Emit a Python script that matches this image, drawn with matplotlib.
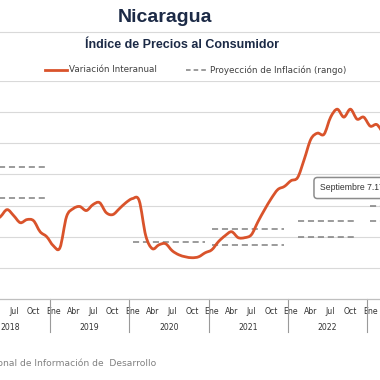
import matplotlib
matplotlib.use("Agg")
import matplotlib.pyplot as plt
import numpy as np
from matplotlib.lines import Line2D
from matplotlib.path import Path
from matplotlib.patches import PathPatch
import matplotlib.transforms as mtransforms

# meses desde enero 2019 (0 = Ene 2019)
meses = list(range(-9, 51))
variacion = [4.97, 5.29, 5.74, 5.35, 4.90, 5.10, 5.03, 4.32, 4.00,
             3.42, 3.29, 5.29, 5.80, 5.94, 5.68, 6.06, 6.19, 5.55, 5.42, 5.80, 6.19,
             6.45, 6.32, 4.06, 3.23, 3.48, 3.55, 3.10, 2.84, 2.71, 2.65, 2.71, 2.97,
             3.16, 3.68, 4.06, 4.32, 3.94, 3.94, 4.13, 4.97, 5.74, 6.45, 7.03, 7.23,
             7.60, 7.80, 8.97, 10.26, 10.65, 10.58, 11.68, 12.19, 11.68, 12.19, 11.55, 11.68,
             11.10, 11.20, 10.60]

# proyecciones (mes inicio, mes fin, bajo, alto)
proy_inicio = [-12, 12, 24, 37, 48]
proy_fin = [-1, 23, 35, 46, 59]
proy_bajo = [6.5, 3.68, 3.5, 4.0, 5.0]
proy_alto = [8.5, 3.68, 4.5, 5.0, 6.0]

anios = [2018, 2019, 2020, 2021, 2022, 2023]
nombres_mes = ["Ene", "Abr", "Jul", "Oct"]

naranja = "#d9532b"
gris = "#808080"
navy = "#1c2a46"

fig = plt.figure(figsize=(3.8, 3.8), dpi=100)
W = H = 380.0
ax = fig.add_axes([-29.2 / W, (H - 299) / H, 475.4 / W, 218 / H])

for y in range(2, 15, 2):
    ax.axhline(y, color="#d9d9d9", lw=0.8, zorder=0)

for a, b, lo, hi in zip(proy_inicio, proy_fin, proy_bajo, proy_alto):
    ax.plot([a, b], [lo, lo], color=gris, lw=1.1, dashes=(4, 2.5))
    if hi != lo:
        ax.plot([a, b], [hi, hi], color=gris, lw=1.1, dashes=(4, 2.5))

# linea suavizada (curvas bezier entre los puntos mensuales, como en excel)
pts = np.column_stack([meses, variacion])
n = len(pts)
verts = [pts[0]]
codes = [Path.MOVETO]
for i in range(n - 1):
    p0 = pts[max(i - 1, 0)]
    p1 = pts[i]
    p2 = pts[i + 1]
    p3 = pts[min(i + 2, n - 1)]
    verts += [p1 + (p2 - p0) / 6, p2 - (p3 - p1) / 6, p2]
    codes += [Path.CURVE4] * 3
ax.add_patch(PathPatch(Path(verts, codes), fill=False, edgecolor=naranja, lw=2.0,
                       capstyle="round", joinstyle="round", zorder=3))

ax.set_xlim(-12.5, 59.5)
ax.set_ylim(0, 14)
ax.set_yticks([])
for s in ["top", "right", "left"]:
    ax.spines[s].set_visible(False)
ax.spines["bottom"].set_color("#bfbfbf")
ax.spines["bottom"].set_linewidth(0.9)

ticks = []
labels = []
for anio in anios:
    base = (anio - 2019) * 12
    for j, nm in enumerate(nombres_mes):
        ticks.append(base + 3 * j)
        labels.append(nm)
ax.set_xticks(ticks)
ax.set_xticklabels(labels, fontsize=5.6, color="#333333")
ax.tick_params(axis="x", length=0, pad=6)

trans = mtransforms.blended_transform_factory(ax.transData, ax.transAxes)
for anio in anios:
    base = (anio - 2019) * 12
    if anio < 2023:
        ax.text(base + 5.5, -0.13, str(anio), transform=trans, ha="center", va="center",
                fontsize=5.6, color="#333333")
    ax.plot([base - 0.5, base - 0.5], [0, -0.151], transform=trans, color="#9a9a9a",
            lw=0.8, clip_on=False)

# titulos
fig.text(165 / W, 1 - 17 / H, "Nicaragua", ha="center", va="center", fontsize=14,
         fontweight="bold", color=navy, family="Liberation Sans")
fig.text(182 / W, 1 - 45 / H, "Índice de Precios al Consumidor", ha="center", va="center",
         fontsize=9, fontweight="bold", color=navy, family="Liberation Sans")
fig.add_artist(Line2D([0, 1], [1 - 32 / H] * 2, color="#d9d9d9", lw=0.8))

# leyenda
fig.add_artist(Line2D([45 / W, 67 / W], [1 - 70 / H] * 2, color=naranja, lw=2.0))
fig.text(69 / W, 1 - 70 / H, "Variación Interanual", ha="left", va="center",
         fontsize=6.3, color="#404040")
fig.add_artist(Line2D([186 / W, 208 / W], [1 - 70 / H] * 2, color=gris, lw=1.1,
                      dashes=(3, 2)))
fig.text(210 / W, 1 - 70 / H, "Proyección de Inflación (rango)", ha="left", va="center",
         fontsize=6.3, color="#404040")

# etiqueta
fig.text(320 / W, 1 - 188 / H, "Septiembre 7.17%", ha="left", va="center", fontsize=6.2,
         color="#333333", family="Liberation Sans",
         bbox=dict(boxstyle="round,pad=0.7,rounding_size=0.4", fc="white", ec="#8c8c8c", lw=1.1))

fig.text(156 / W, 1 - 363 / H, "Fuente: Instituto Nacional de Información de  Desarrollo",
         ha="right", va="center", fontsize=6.6, color="#808080")

fig.savefig("out.png", dpi=100)
